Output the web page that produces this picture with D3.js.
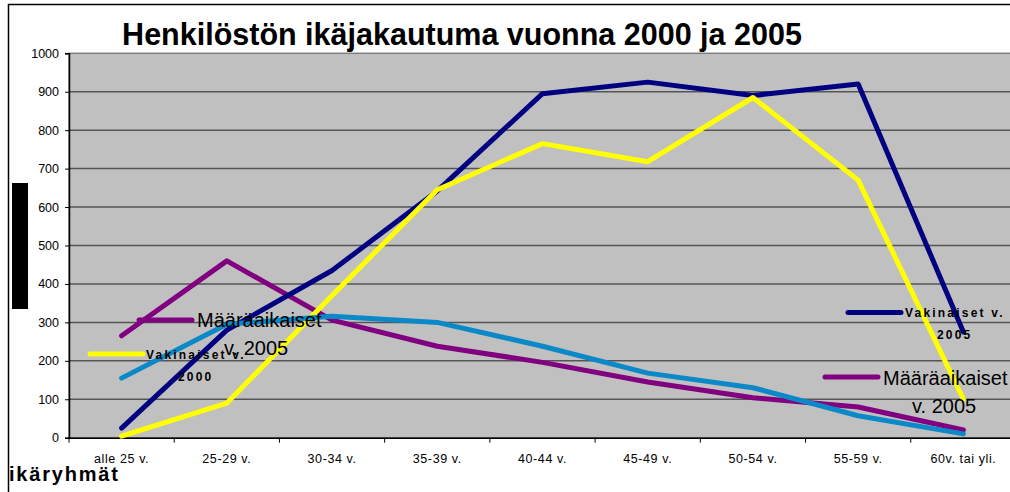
<!DOCTYPE html>
<html>
<head>
<meta charset="utf-8">
<script src="https://cdn.jsdelivr.net/npm/d3@7"></script>
<style>
  body { margin: 0; background: #fff; }
  svg { display: block; font-family: "Liberation Sans", Arial, sans-serif; }
</style>
</head>
<body>
<div class="svg-container"></div>
<script>
// categories (age groups)
var ageGroups = ["alle 25 v.", "25-29 v.", "30-34 v.", "35-39 v.", "40-44 v.",
  "45-49 v.", "50-54 v.", "55-59 v.", "60v. tai yli."];

// series values
var vakinaiset2005 = [25, 280, 435, 642, 895, 925, 890, 920, 275];
var vakinaiset2000 = [4, 90, 370, 645, 765, 718, 885, 670, 100];
var maaraaikaiset2005 = [265, 460, 306, 238, 196, 145, 104, 80, 20];
var maaraaikaiset2000 = [155, 295, 316, 300, 238, 168, 130, 57, 10];

var yTicks = [0, 100, 200, 300, 400, 500, 600, 700, 800, 900, 1000];

var series = [
  {name: "Määräaikaiset v. 2005", values: maaraaikaiset2005, color: "#800080"},
  {name: "Vakinaiset v. 2005", values: vakinaiset2005, color: "#000080"},
  {name: "Vakinaiset v. 2000", values: vakinaiset2000, color: "#ffff00"},
  {name: "Määräaikaiset v. 2000", values: maaraaikaiset2000, color: "#0a88c8"}
];

var W = 1010, H = 492;
var plot = {left: 69, top: 53.3, right: 1016, bottom: 437.7};

var svg = d3.select(".svg-container").append("svg")
  .attr("width", W)
  .attr("height", H);

// outer chart border
svg.append("rect")
  .attr("x", 8.5).attr("y", 4.5)
  .attr("width", 1100).attr("height", 600)
  .attr("fill", "#fff")
  .attr("stroke", "#000")
  .attr("stroke-width", 1.5);

// title
svg.append("text")
  .attr("x", 462).attr("y", 45)
  .attr("text-anchor", "middle")
  .style("font-size", "30.5px")
  .style("font-weight", "bold")
  .text("Henkilöstön ikäjakautuma vuonna 2000 ja 2005");

// scales
var x = d3.scaleBand().domain(ageGroups).range([plot.left, plot.right]);
var y = d3.scaleLinear().domain([0, 1000]).range([plot.bottom, plot.top]);

// plot background
svg.append("rect")
  .attr("x", plot.left).attr("y", plot.top)
  .attr("width", plot.right - plot.left)
  .attr("height", plot.bottom - plot.top)
  .attr("fill", "#c0c0c0")
  .attr("stroke", "#808080")
  .attr("stroke-width", 1.5);

// gridlines
svg.append("g").selectAll("line")
  .data(yTicks.slice(1, -1))
  .enter().append("line")
  .attr("x1", plot.left).attr("x2", plot.right)
  .attr("y1", function(d) { return y(d); })
  .attr("y2", function(d) { return y(d); })
  .attr("stroke", "#555")
  .attr("stroke-width", 1.5);

// y axis
var yAxis = svg.append("g")
  .attr("transform", "translate(" + plot.left + ",0)")
  .call(d3.axisLeft(y).tickValues(yTicks).tickFormat(d3.format("d")).tickSize(4).tickPadding(6));
yAxis.select(".domain").attr("stroke", "#000").attr("stroke-width", 1.5);
yAxis.selectAll(".tick line").attr("stroke", "#000");
yAxis.selectAll("text").style("font-size", "12.5px").attr("fill", "#000");

// x axis, ticks between categories
var xAxis = svg.append("g")
  .attr("transform", "translate(0," + plot.bottom + ")")
  .call(d3.axisBottom(x).tickSize(0).tickPadding(16));
xAxis.select(".domain").attr("stroke", "#000").attr("stroke-width", 1.5);
xAxis.selectAll("text")
  .style("font-size", "12.5px")
  .style("letter-spacing", "0.6px")
  .attr("fill", "#000");
xAxis.selectAll(".sep")
  .data(ageGroups)
  .enter().append("line")
  .attr("class", "sep")
  .attr("x1", function(d) { return x(d); })
  .attr("x2", function(d) { return x(d); })
  .attr("y1", 0).attr("y2", 5)
  .attr("stroke", "#000");

// lines
var line = d3.line()
  .x(function(d, i) { return x(ageGroups[i]) + x.bandwidth() / 2; })
  .y(function(d) { return y(d); });

svg.append("g").selectAll("path")
  .data(series)
  .enter().append("path")
  .attr("d", function(d) { return line(d.values); })
  .attr("fill", "none")
  .attr("stroke", function(d) { return d.color; })
  .attr("stroke-width", 5)
  .attr("stroke-linejoin", "round")
  .attr("stroke-linecap", "round");

// legend pieces (two overlapping legend boxes, as in the original)
function legendLine(x1, x2, yy, color) {
  svg.append("line")
    .attr("x1", x1).attr("x2", x2).attr("y1", yy).attr("y2", yy)
    .attr("stroke", color).attr("stroke-width", 5)
    .attr("stroke-linecap", "round");
}
function bigLabel(xx, yy, lines) {
  lines.forEach(function(t, i) {
    svg.append("text")
      .attr("x", xx[i]).attr("y", yy + i * 28)
      .style("font-size", "20px")
      .text(t);
  });
}
function smallLabel(xx, yy, lines) {
  lines.forEach(function(t, i) {
    svg.append("text")
      .attr("x", xx[i]).attr("y", yy + i * 22)
      .style("font-size", "12px")
      .style("font-weight", "bold")
      .style("letter-spacing", "2.2px")
      .text(t);
  });
}

legendLine(139, 192, 320, "#800080");
bigLabel([197, 224], 327, ["Määräaikaiset", "v. 2005"]);
legendLine(90, 143, 354, "#ffff00");
smallLabel([146, 178], 359, ["Vakinaiset v.", "2000"]);

legendLine(848, 901, 312.5, "#000080");
smallLabel([905, 937], 317, ["Vakinaiset v.", "2005"]);
legendLine(825, 878, 377, "#800080");
bigLabel([883, 912], 385, ["Määräaikaiset", "v. 2005"]);

// black box on the left
svg.append("rect")
  .attr("x", 12).attr("y", 183)
  .attr("width", 16).attr("height", 126)
  .attr("fill", "#000");

// x axis title
svg.append("text")
  .attr("x", 9).attr("y", 481)
  .style("font-size", "20px")
  .style("font-weight", "bold")
  .style("letter-spacing", "1.8px")
  .text("ikäryhmät");
</script>
</body>
</html>
